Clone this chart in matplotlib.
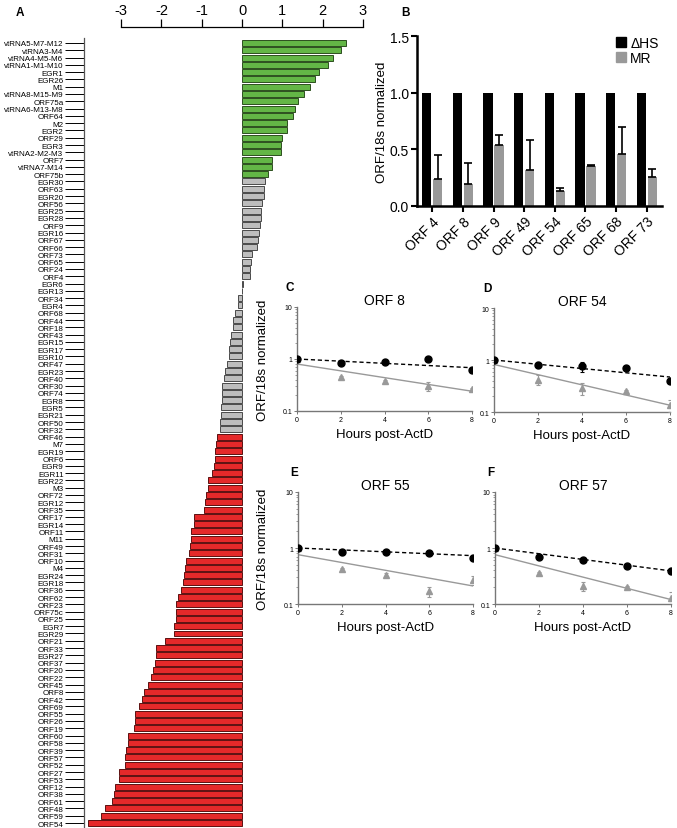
import numpy as np
import matplotlib
matplotlib.use("Agg")
from matplotlib import pyplot as plt
from matplotlib.patches import Patch
from matplotlib.ticker import FixedLocator, NullFormatter, LogLocator

plt.rcParams['font.family'] = ['Liberation Sans', 'DejaVu Sans']

W, H = 677, 829

# panel A: log2 fold change, sorted
up_genes = ["vtRNA5-M7-M12", "vtRNA3-M4", "vtRNA4-M5-M6", "vtRNA1-M1-M10", "EGR1", "EGR26",
            "M1", "vtRNA8-M15-M9", "ORF75a", "vtRNA6-M13-M8", "ORF64", "M2", "EGR2", "ORF29",
            "EGR3", "vtRNA2-M2-M3", "ORF7", "vtRNA7-M14", "ORF75b"]
up_vals = [2.58, 2.45, 2.25, 2.12, 1.90, 1.80, 1.69, 1.54, 1.39, 1.31, 1.26, 1.12, 1.11, 0.99,
           0.96, 0.96, 0.74, 0.74, 0.64]
ns_genes = ["EGR30", "ORF63", "EGR20", "ORF56", "EGR25", "EGR28", "ORF9", "EGR16", "ORF67",
            "ORF66", "ORF73", "ORF65", "ORF24", "ORF4", "EGR6", "EGR13", "ORF34", "EGR4",
            "ORF68", "ORF44", "ORF18", "ORF43", "EGR15", "EGR17", "EGR10", "ORF47", "EGR23",
            "ORF40", "ORF30", "ORF74", "EGR8", "EGR5", "EGR21", "ORF50", "ORF32"]
ns_vals = [0.56, 0.55, 0.54, 0.50, 0.48, 0.48, 0.45, 0.41, 0.40, 0.38, 0.24, 0.21, 0.19, 0.19,
           0.03, -0.01, -0.11, -0.11, -0.17, -0.22, -0.23, -0.27, -0.31, -0.32, -0.32, -0.37,
           -0.42, -0.46, -0.50, -0.50, -0.50, -0.52, -0.52, -0.55, -0.55]
down_genes = ["ORF46", "M7", "EGR19", "ORF6", "EGR9", "EGR11", "EGR22", "M3", "ORF72", "EGR12",
              "ORF35", "ORF17", "EGR14", "ORF11", "M11", "ORF49", "ORF31", "ORF10", "M4",
              "EGR24", "EGR18", "ORF36", "ORF62", "ORF23", "ORF75c", "ORF25", "EGR7", "EGR29",
              "ORF21", "ORF33", "EGR27", "ORF37", "ORF20", "ORF22", "ORF45", "ORF8", "ORF42",
              "ORF69", "ORF55", "ORF26", "ORF19", "ORF60", "ORF58", "ORF39", "ORF57", "ORF52",
              "ORF27", "ORF53", "ORF12", "ORF38", "ORF61", "ORF48", "ORF59", "ORF54"]
down_vals = [-0.62, -0.64, -0.68, -0.68, -0.69, -0.74, -0.84, -0.85, -0.90, -0.93, -0.94, -1.18,
             -1.20, -1.26, -1.27, -1.29, -1.32, -1.39, -1.42, -1.45, -1.47, -1.51, -1.60, -1.64,
             -1.64, -1.65, -1.69, -1.69, -1.90, -2.13, -2.14, -2.15, -2.21, -2.25, -2.33, -2.44,
             -2.49, -2.55, -2.65, -2.66, -2.69, -2.83, -2.84, -2.88, -2.91, -2.91, -3.06, -3.06,
             -3.16, -3.17, -3.23, -3.39, -3.49, -3.83]

# panel B
orfs = ["ORF 4", "ORF 8", "ORF 9", "ORF 49", "ORF 54", "ORF 65", "ORF 68", "ORF 73"]
dhs = [1.0, 1.0, 1.0, 1.0, 1.0, 1.0, 1.0, 1.0]
mr = [0.24, 0.19, 0.54, 0.32, 0.13, 0.35, 0.46, 0.26]
mr_err = [0.21, 0.19, 0.09, 0.26, 0.03, 0.01, 0.24, 0.07]

# panels C-F: decay after ActD
hours = [0, 2, 4, 6, 8]
orf8_dhs = [1.0, 0.85, 0.88, 1.0, 0.62]
orf8_dhs_err = [0.02, 0.03, 0.03, 0.03, 0.03]
orf8_mr = [1.0, 0.45, 0.37, 0.30, 0.26]
orf8_mr_err = [0.02, 0.02, 0.02, 0.06, 0.02]
orf8_fit_dhs = [1.0, 0.68]
orf8_fit_mr = [0.80, 0.24]

orf54_dhs = [1.0, 0.81, 0.75, 0.70, 0.39]
orf54_dhs_err = [0.02, 0.12, 0.15, 0.05, 0.02]
orf54_mr = [1.0, 0.42, 0.29, 0.25, 0.135]
orf54_mr_err = [0.02, 0.09, 0.075, 0.02, 0.035]
orf54_fit_dhs = [1.0, 0.47]
orf54_fit_mr = [0.82, 0.135]

orf55_dhs = [1.0, 0.84, 0.84, 0.83, 0.66]
orf55_dhs_err = [0.02, 0.08, 0.03, 0.03, 0.03]
orf55_mr = [1.0, 0.42, 0.33, 0.17, 0.27]
orf55_mr_err = [0.02, 0.02, 0.03, 0.035, 0.05]
orf55_fit_dhs = [1.0, 0.73]
orf55_fit_mr = [0.76, 0.21]

orf57_dhs = [1.0, 0.70, 0.60, 0.48, 0.39]
orf57_dhs_err = [0.02, 0.03, 0.02, 0.02, 0.05]
orf57_mr = [1.0, 0.36, 0.21, 0.20, 0.13]
orf57_mr_err = [0.02, 0.02, 0.04, 0.01, 0.035]
orf57_fit_dhs = [1.0, 0.39]
orf57_fit_mr = [0.76, 0.12]


def px_axes(fig, left, top, right, bottom):
    return fig.add_axes([left / W, 1 - bottom / H, (right - left) / W, (bottom - top) / H])


def panel_letter(fig, x, y, s):
    fig.text(x / W, 1 - y / H, s, fontsize=8.5, fontweight='bold', ha='center', va='center')


fig = plt.figure(figsize=(W / 100, H / 100), dpi=100)

# ---------------- A ----------------
genes = up_genes + ns_genes + down_genes
vals = up_vals + ns_vals + down_vals
fills = ['#63b646'] * len(up_vals) + ['#bdbdbd'] * len(ns_vals) + ['#e5292a'] * len(down_vals)
edges = ['#2c4f1e'] * len(up_vals) + ['#4a4a4a'] * len(ns_vals) + ['#5c1010'] * len(down_vals)
rows = np.arange(len(genes))

axA = px_axes(fig, 84, 28, 363, 829)
axA.barh(rows, vals, height=0.82, color=fills, edgecolor=edges, linewidth=0.7)
axA.set_xlim(-3.92, 3.0)
axA.set_ylim(107.68, -2.19)
axA.spines['right'].set_visible(False)
axA.spines['bottom'].set_visible(False)
axA.spines['top'].set_bounds(-3, 3)
axA.spines['left'].set_bounds(-0.7, 107.68)
axA.spines['top'].set_linewidth(0.9)
axA.spines['left'].set_linewidth(0.9)
axA.spines['left'].set_color('#555555')
axA.xaxis.tick_top()
axA.set_xticks([-3, -2, -1, 0, 1, 2, 3])
axA.set_xticklabels(['-3', '-2', '-1', '0', '1', '2', '3'])
axA.tick_params(axis='x', direction='out', length=6, width=0.9, labelsize=10.5, pad=1)
axA.set_yticks(rows)
axA.set_yticklabels(genes)
axA.tick_params(axis='y', direction='out', length=13.5, width=0.7, labelsize=5.8, pad=1.2)
panel_letter(fig, 20, 13, 'A')

# ---------------- B ----------------
axB = px_axes(fig, 417, 37, 662, 207)
xb = np.arange(len(orfs))
axB.bar(xb - 0.18, dhs, width=0.3, color='black')
axB.bar(xb + 0.18, mr, width=0.3, color='#999999')
axB.errorbar(xb + 0.18, mr, yerr=[np.zeros(len(mr)), mr_err], fmt='none', ecolor='black',
             elinewidth=1.2, capsize=3, capthick=1.2)
axB.set_xlim(-0.5, 7.5)
axB.set_ylim(0, 1.5)
axB.set_yticks([0.0, 0.5, 1.0, 1.5])
axB.set_yticklabels(['0.0', '0.5', '1.0', '1.5'])
axB.set_xticks(xb)
axB.set_xticklabels(orfs, rotation=45, ha='right', rotation_mode='anchor')
for side in ['top', 'right']:
    axB.spines[side].set_visible(False)
for side in ['left', 'bottom']:
    axB.spines[side].set_linewidth(1.8)
axB.tick_params(direction='out', length=4, width=1.5, labelsize=10, pad=2)
axB.set_ylabel('ORF/18s normalized', fontsize=9.5, labelpad=1)
axB.legend(handles=[Patch(color='black', label='ΔHS'), Patch(color='#999999', label='MR')],
           loc='upper left', bbox_to_anchor=(606 / W, 1 - 27 / H), bbox_transform=fig.transFigure,
           frameon=False, fontsize=10, handlelength=0.75, handleheight=0.75, handletextpad=0.3,
           labelspacing=0.1, borderpad=0.2)
panel_letter(fig, 405, 13, 'B')

# ---------------- C-F ----------------
panels = [
    ('ORF 8', (297, 308, 472, 412), orf8_dhs, orf8_dhs_err, orf8_mr, orf8_mr_err,
     orf8_fit_dhs, orf8_fit_mr, True, 'C', (290, 288)),
    ('ORF 54', (494, 309, 670, 413), orf54_dhs, orf54_dhs_err, orf54_mr, orf54_mr_err,
     orf54_fit_dhs, orf54_fit_mr, False, 'D', (487, 289)),
    ('ORF 55', (298, 493, 473, 605), orf55_dhs, orf55_dhs_err, orf55_mr, orf55_mr_err,
     orf55_fit_dhs, orf55_fit_mr, True, 'E', (294, 473)),
    ('ORF 57', (495, 493, 671, 605), orf57_dhs, orf57_dhs_err, orf57_mr, orf57_mr_err,
     orf57_fit_dhs, orf57_fit_mr, False, 'F', (491, 473)),
]

for title, box, yd, yde, ym, yme, fd, fm, ylab, letter, lpos in panels:
    ax = px_axes(fig, *box)
    ax.set_yscale('log')
    ax.plot([hours[0], hours[-1]], fm, color='#999999', lw=1.0, zorder=2)
    ax.errorbar(hours, ym, yerr=yme, fmt='^', color='#999999', ms=4.5, elinewidth=0.8,
                capsize=1.5, capthick=0.8, zorder=3)
    ax.plot([hours[0], hours[-1]], fd, color='black', lw=1.0, ls=(0, (3, 2)), zorder=4)
    ax.errorbar(hours, yd, yerr=yde, fmt='o', color='black', ms=5, elinewidth=0.8,
                capsize=1.5, capthick=0.8, zorder=5)
    ax.set_xlim(0, 8)
    ax.set_ylim(0.1, 10)
    ax.set_xticks([0, 2, 4, 6, 8])
    ax.set_xticklabels(['0', '2', '4', '6', '8'])
    ax.yaxis.set_major_locator(FixedLocator([0.1, 1, 10]))
    ax.yaxis.set_minor_locator(LogLocator(base=10, subs=np.arange(2, 10)))
    ax.yaxis.set_minor_formatter(NullFormatter())
    ax.set_yticklabels(['0.1', '1', '10'])
    for side in ['top', 'right']:
        ax.spines[side].set_visible(False)
    for side in ['left', 'bottom']:
        ax.spines[side].set_color('#777777')
        ax.spines[side].set_linewidth(1.0)
    ax.tick_params(which='major', direction='out', length=2.5, width=0.7, labelsize=5,
                   pad=1, color='#777777')
    ax.tick_params(which='minor', direction='out', length=1.5, width=0.5, color='#777777')
    ax.set_title(title, fontsize=10, pad=0)
    ax.set_xlabel('Hours post-ActD', fontsize=9.5, labelpad=4)
    if ylab:
        ax.set_ylabel('ORF/18s normalized', fontsize=9.5, labelpad=10)
    panel_letter(fig, lpos[0], lpos[1], letter)

fig.savefig('out.png', dpi=100)
